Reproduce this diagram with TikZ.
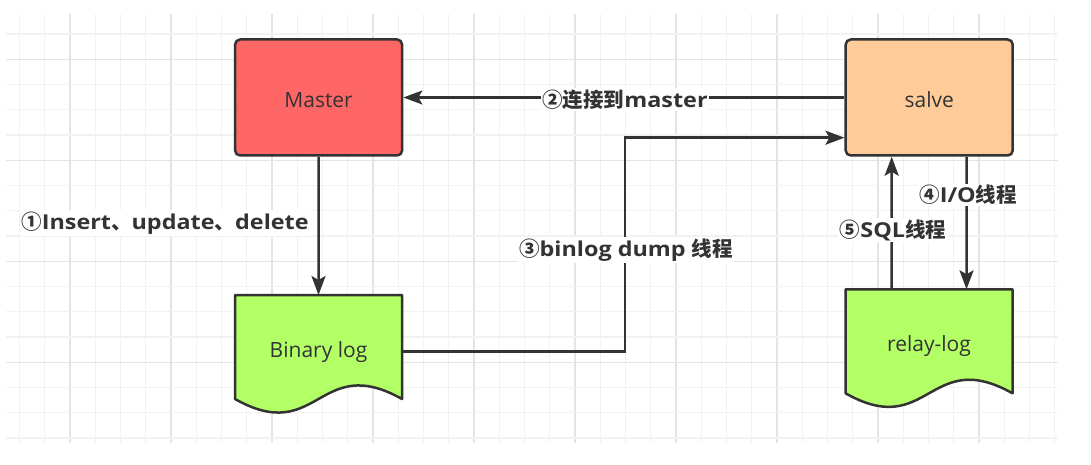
\documentclass[tikz,border=0pt]{standalone}
\usepackage{fontspec}
\setmainfont{Open Sans}
\newfontfamily\cjk{Noto Sans CJK SC}
\newfontfamily\lblfont{Open Sans}[FakeStretch=1.14]
\newcommand\cjt[1]{{\cjk #1}}
\usetikzlibrary{arrows.meta,calc}
\definecolor{ln}{HTML}{333333}
\definecolor{gridmin}{HTML}{F2F2F2}
\definecolor{gridmaj}{HTML}{E4E4E4}
\definecolor{masterfill}{HTML}{FF6666}
\definecolor{salvefill}{HTML}{FFCC99}
\definecolor{docfill}{HTML}{B3FF66}
\pgfdeclarelayer{bg}
\pgfsetlayers{bg,main}
\tikzset{
  box/.style={draw=ln, line width=2.5pt, rounded corners=5pt, minimum width=167pt, minimum height=116pt, inner sep=0pt, text=ln, text height=21pt, text depth=0pt, font=\fontsize{21}{24}\selectfont},
  doc/.style={minimum width=167pt, minimum height=104pt, inner sep=0pt, outer sep=0pt, text=ln, text height=21pt, text depth=0pt, font=\fontsize{21}{24}\selectfont},
  docshape/.style={draw=ln, fill=docfill, line width=2.5pt, line join=round},
  arr/.style={draw=ln, line width=2.5pt, -{Stealth[length=19pt,width=14pt,inset=4pt]}},
  lbl/.style={fill=white, inner sep=1.5pt, text=ln, font=\lblfont\bfseries\fontsize{20.5}{22}\selectfont},
}
\begin{document}
\begin{tikzpicture}[x=1pt,y=-1pt]
\useasboundingbox (0,0) rectangle (1091,465);
\begin{pgfonlayer}{bg}
\fill[white] (0,0) rectangle (1091,465);
\begin{scope}
\clip (6,14) rectangle (1057.5,443);
\foreach \k in {0,...,41}{
  \pgfmathtruncatemacro\m{mod(\k,4)}
  \ifnum\m=2 \def\gc{gridmaj}\else\def\gc{gridmin}\fi
  \draw[\gc, line width=1.2pt] (19.5+25.25*\k,14) -- (19.5+25.25*\k,443);
}
\foreach \k in {0,...,17}{
  \pgfmathtruncatemacro\m{mod(\k,4)}
  \ifnum\m=2 \def\gc{gridmaj}\else\def\gc{gridmin}\fi
  \draw[\gc, line width=1.2pt] (6,8.8+25.25*\k) -- (1057.5,8.8+25.25*\k);
}
\end{scope}
\end{pgfonlayer}

\node[box, fill=masterfill] (master) at (318.6,97.5) {Master};
\node[box, fill=salvefill] (salve) at (929.2,97.5) {salve};
\node[doc] (bin) at (318.5,347) {Binary log};
\node[doc] (relay) at (929,341.3) {relay-log};

\begin{pgfonlayer}{bg}
\path[docshape] (bin.north west) -- (bin.north east) -- (bin.south east)
  .. controls ($(bin.south)+(0,-47)$) and ($(bin.south)+(0,47)$) .. (bin.south west) -- cycle;
\path[docshape] (relay.north west) -- (relay.north east) -- (relay.south east)
  .. controls ($(relay.south)+(0,-47)$) and ($(relay.south)+(0,47)$) .. (relay.south west) -- cycle;
\end{pgfonlayer}

% connectors
\draw[arr] (master.south) -- (bin.north);
\draw[arr] (salve.west) -- (master.east);
\coordinate (binout) at ([yshift=-4.7pt]bin.east);
\coordinate (salvein) at ([yshift=-40.2pt]salve.west);
\coordinate (bend) at (625,0);
\draw[arr] (binout) -- (binout -| bend) -- (bend |- salvein) -- (salvein);
\draw[arr] ([xshift=37.5pt]salve.south) -- ([xshift=37.5pt]relay.north);
\draw[arr] ([xshift=-37.5pt]relay.north) -- ([xshift=-37.5pt]salve.south);

% labels
\node[lbl] (l1) at (165,223) {\cjt{①}Insert\cjt{、}update\cjt{、}delete};
\node[lbl] (l2) at (625,99.5) {\cjt{②连接到}master};
\node[lbl] (l3) at (626,250) {\cjt{③}binlog dump \cjt{线程}};
\node[lbl] (l4) at (968,195) {\cjt{④}I/O\cjt{线程}};
\node[lbl] (l5) at (893,230) {\cjt{⑤}SQL\cjt{线程}};
\end{tikzpicture}
\end{document}
